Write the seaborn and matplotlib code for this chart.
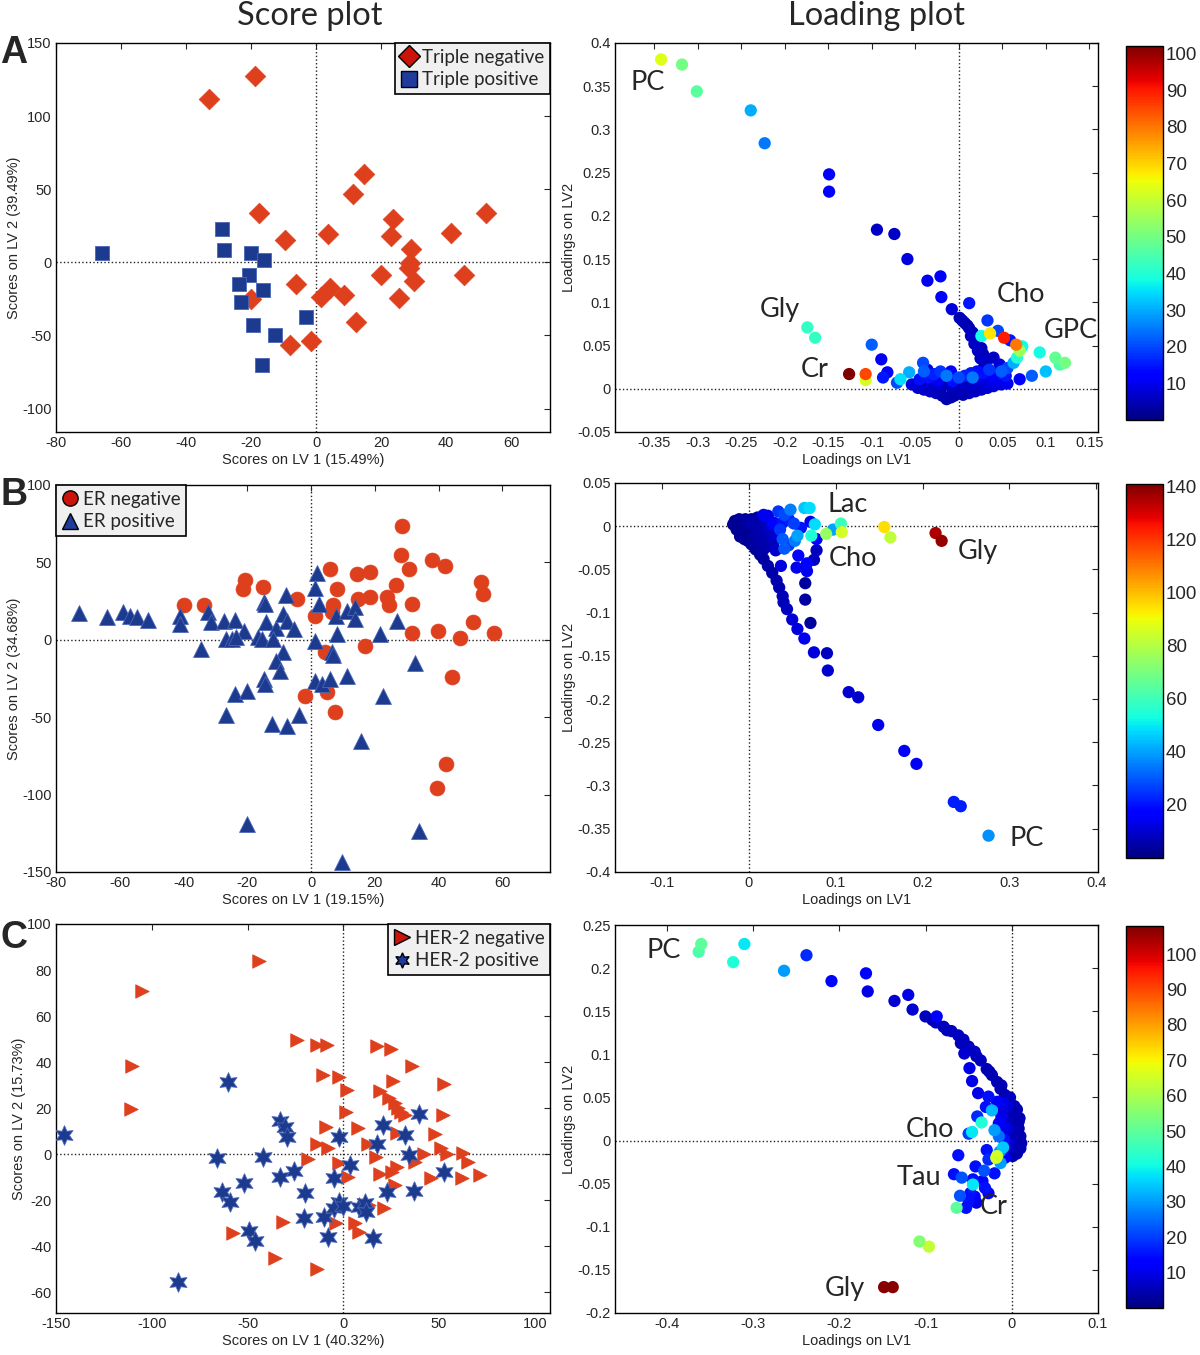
import matplotlib
matplotlib.use('Agg')
import matplotlib.pyplot as plt
from matplotlib.lines import Line2D
from matplotlib.cm import ScalarMappable
from matplotlib.colors import Normalize
import pandas as pd
import seaborn as sns

sns.set_style('white')
plt.rcParams['font.family'] = ['Liberation Sans', 'DejaVu Sans']

RED = '#DE3F1C'
BLUE = '#1C3A8E'
JET = matplotlib.colormaps['jet']

# ---------------- score plot data (LV1, LV2) ----------------
a_neg = [(-32.9, 111.4), (-18.7, 127.3), (14.6, 60.2), (11.3, 46.4), (-17.7, 33.9),
         (23.6, 29.3), (52.3, 33.9), (3.6, 19.3), (-9.7, 15.2), (23.0, 18.2),
         (41.5, 20.2), (29.3, 9.1), (28.9, -0.7), (28.5, -4.1), (19.9, -8.9),
         (30.2, -12.7), (45.5, -8.9), (-6.3, -15.0), (4.2, -17.7), (1.6, -23.4),
         (8.6, -22.3), (-20.0, -25.0), (25.5, -24.5), (12.2, -40.9), (-8.0, -56.4),
         (-1.6, -54.1)]
a_pos = [(-66.0, 6.6), (-28.9, 23.0), (-28.2, 8.4), (-20.0, 6.1), (-15.9, 1.6),
         (-20.6, -8.9), (-23.6, -15.0), (-16.2, -18.9), (-23.1, -27.3), (-3.0, -37.5),
         (-19.4, -43.0), (-12.5, -50.0), (-16.6, -70.2)]

b_neg = [(28.6, 73.4), (28.3, 54.5), (37.8, 51.5), (42.0, 47.6), (30.6, 45.9),
         (5.8, 45.9), (14.5, 42.7), (18.6, 44.0), (-20.6, 38.6), (-21.5, 32.6),
         (-15.1, 33.9), (8.2, 32.6), (26.7, 35.4), (53.4, 37.6), (54.0, 29.4),
         (-4.5, 26.6), (14.7, 26.2), (18.6, 27.9), (23.8, 27.9), (24.5, 22.3),
         (6.9, 22.3), (-39.8, 22.5), (-33.7, 22.5), (31.7, 23.0), (1.1, 15.5),
         (6.7, 18.0), (50.9, 11.2), (31.7, 4.1), (39.7, 5.8), (46.7, 0.9),
         (57.5, 4.1), (16.9, -3.9), (4.5, -8.2), (44.2, -24.2), (-2.0, -36.1),
         (4.9, -33.5), (7.5, -46.4), (42.3, -80.5), (39.4, -95.5)]
b_pos = [(-72.7, 17.0), (-64.0, 14.8), (-59.1, 18.0), (-56.9, 15.5), (-54.5, 14.4),
         (-51.2, 12.7), (-41.0, 15.5), (-41.2, 10.1), (-32.3, 18.0), (-31.5, 11.2),
         (-27.2, 12.2), (-24.0, 12.7), (-21.1, 5.8), (-26.7, 0.4), (-24.8, 0.4),
         (-23.4, 1.5), (-34.5, -6.0), (-14.8, 24.5), (-14.5, 23.0), (-7.9, 28.8),
         (-14.2, 11.2), (-11.1, 7.3), (-8.7, 16.5), (-7.6, 12.2), (-5.3, 6.9),
         (-16.7, 1.5), (-15.4, 0.4), (-12.0, 0.4), (-8.7, -7.7), (-10.9, -13.5),
         (-9.6, -20.0), (-14.8, -25.3), (-14.5, -28.5), (-23.7, -35.0), (-20.0, -32.8),
         (-26.7, -48.9), (-12.2, -54.3), (-7.6, -55.4), (-3.7, -48.5), (1.9, 43.3),
         (1.1, 33.3), (2.4, 23.0), (7.8, 15.5), (11.4, 18.7), (13.9, 21.2),
         (13.9, 13.7), (8.3, 3.6), (1.3, -0.6), (6.7, -7.7), (6.9, -9.9),
         (21.7, 3.6), (26.9, 12.2), (11.4, -23.6), (1.3, -26.4), (3.3, -28.5),
         (5.8, -25.3), (22.7, -36.1), (32.7, -15.0), (15.8, -65.7), (-20.0, -119.3),
         (33.8, -123.6), (9.7, -143.3)]

c_neg = [(-43.9, 84.0), (-104.9, 71.0), (-110.2, 38.1), (-110.7, 19.8), (-24.2, 49.4),
         (-13.7, 47.5), (-8.4, 47.5), (17.8, 47.2), (25.0, 45.7), (35.8, 38.1),
         (-10.7, 34.2), (-2.3, 33.5), (2.1, 27.7), (25.9, 31.6), (52.6, 30.3),
         (19.3, 27.3), (24.0, 24.5), (26.8, 22.2), (28.7, 20.1), (30.2, 18.3),
         (32.1, 17.2), (1.5, 18.3), (52.2, 16.9), (-8.8, 11.8), (7.7, 11.4),
         (27.8, 9.2), (47.9, 8.9), (-13.5, 4.6), (-7.9, 2.5), (12.8, 4.6),
         (17.1, -1.2), (-18.2, -1.9), (-2.3, -4.0), (41.9, -0.1), (51.2, 2.5),
         (54.1, -0.1), (62.5, 0.3), (65.3, -3.6), (37.2, -3.3), (2.4, -9.8),
         (19.3, -8.4), (25.3, -7.6), (27.8, -5.5), (45.6, -10.2), (62.1, -10.2),
         (71.5, -9.1), (26.8, -13.4), (13.3, -22.1), (21.2, -23.2), (-31.7, -29.3),
         (-57.6, -34.1), (-3.6, -30.0), (6.2, -30.0), (8.1, -33.6), (-35.5, -44.9),
         (-13.9, -49.9)]
c_pos = [(-145.8, 8.5), (-60.1, 31.3), (-33.2, 14.4), (-30.4, 11.8), (-29.5, 7.5),
         (-66.1, -1.6), (-41.7, -1.2), (-25.7, -7.4), (-32.8, -9.8), (-52.0, -12.7),
         (-63.3, -16.6), (-59.2, -20.6), (-20.1, -16.7), (-20.5, -27.6), (-49.2, -33.3),
         (-46.0, -37.7), (-10.1, -27.1), (-7.9, -35.8), (-2.3, 7.5), (3.4, -4.8),
         (-5.1, -10.5), (-2.3, -20.6), (-5.1, -23.5), (-0.4, -22.4), (8.1, -22.8),
         (11.4, -21.4), (11.8, -25.3), (15.6, -36.5), (17.5, 4.6), (20.8, 12.8),
         (32.1, 8.5), (39.6, 17.3), (34.3, -0.4), (22.7, -16.3), (36.8, -16.0),
         (52.6, -7.6), (-86.1, -55.7)]

# ---------------- loading plot data (LV1, LV2, colour value) ----------------
a_load = [(-0.342, 0.381, 63), (-0.318, 0.375, 50), (-0.301, 0.344, 47), (-0.239, 0.322, 30),
          (-0.223, 0.284, 25), (-0.149, 0.248, 12), (-0.149, 0.228, 12), (-0.094, 0.184, 6),
          (-0.074, 0.179, 6), (-0.059, 0.150, 8), (-0.036, 0.125, 10), (-0.021, 0.130, 12),
          (-0.020, 0.106, 12), (-0.008, 0.092, 8), (0.012, 0.099, 15), (0.001, 0.082, 5),
          (0.007, 0.076, 5), (0.012, 0.070, 5), (0.016, 0.065, 5), (0.021, 0.057, 5),
          (0.026, 0.047, 5), (0.028, 0.040, 5), (0.031, 0.030, 5), (0.004, 0.079, 4),
          (0.010, 0.073, 4), (0.014, 0.061, 6), (0.018, 0.052, 6), (0.022, 0.044, 6),
          (0.025, 0.035, 6), (0.029, 0.025, 6), (0.033, 0.079, 18), (0.045, 0.067, 20),
          (0.026, 0.061, 38), (0.036, 0.064, 68), (0.052, 0.059, 90), (0.059, 0.056, 15),
          (0.066, 0.051, 80), (0.073, 0.049, 38), (0.070, 0.044, 55), (0.067, 0.036, 40),
          (0.063, 0.030, 30), (0.056, 0.024, 20), (0.040, 0.036, 6), (0.047, 0.028, 8),
          (0.093, 0.042, 38), (0.111, 0.036, 48), (0.116, 0.028, 45), (0.122, 0.030, 50),
          (0.100, 0.020, 32), (0.084, 0.015, 22), (0.070, 0.011, 12), (-0.174, 0.071, 42),
          (-0.165, 0.059, 42), (-0.126, 0.017, 102), (-0.107, 0.017, 85), (-0.107, 0.010, 62),
          (-0.100, 0.051, 22), (-0.089, 0.034, 10), (-0.087, 0.013, 15), (-0.082, 0.019, 12),
          (-0.067, 0.011, 35), (-0.057, 0.019, 30), (-0.041, 0.030, 20), (-0.036, 0.022, 8),
          (-0.071, 0.007, 20), (-0.054, 0.005, 8), (-0.047, 0.001, 7), (-0.040, -0.001, 6),
          (-0.033, -0.003, 6), (-0.026, -0.005, 5), (-0.019, -0.008, 5), (-0.014, -0.012, 4),
          (-0.009, -0.010, 4), (-0.005, -0.008, 4), (0.005, -0.007, 5), (0.012, -0.005, 5),
          (0.019, -0.003, 6), (0.026, -0.001, 6), (0.033, 0.001, 7), (0.040, 0.003, 8),
          (0.049, 0.005, 9), (0.056, 0.006, 10), (-0.045, 0.011, 14), (-0.035, 0.013, 14),
          (-0.028, 0.017, 16), (-0.021, 0.020, 18), (-0.014, 0.015, 25), (-0.007, 0.009, 14),
          (0.000, 0.013, 20), (0.007, 0.015, 16), (0.014, 0.018, 15), (0.021, 0.020, 14),
          (0.028, 0.018, 14), (0.035, 0.022, 18), (0.042, 0.017, 12), (0.049, 0.020, 22),
          (-0.016, 0.005, 6), (-0.009, 0.003, 6), (-0.002, 0.001, 5), (0.005, 0.005, 6),
          (0.012, 0.007, 6), (0.019, 0.009, 7), (0.026, 0.011, 8), (0.033, 0.013, 9),
          (0.035, 0.007, 8), (-0.035, 0.005, 7), (-0.026, 0.003, 6), (-0.024, 0.009, 10),
          (0.012, 0.001, 5), (0.021, 0.003, 6), (-0.007, -0.005, 4), (0.000, -0.003, 4),
          (-0.021, -0.001, 5), (0.031, 0.007, 8), (0.040, 0.011, 10), (-0.009, 0.020, 12),
          (-0.040, 0.020, 22), (0.016, 0.013, 25), (0.054, 0.015, 15)]

b_load = [(0.276, -0.358, 38), (0.236, -0.319, 22), (0.244, -0.324, 22), (0.193, -0.275, 15),
          (0.179, -0.260, 16), (0.149, -0.230, 14), (0.115, -0.192, 10), (0.126, -0.198, 10),
          (0.090, -0.147, 8), (0.091, -0.167, 10), (0.075, -0.146, 12), (0.064, -0.130, 14),
          (0.056, -0.119, 12), (0.050, -0.108, 11), (0.071, -0.112, 4), (0.065, -0.085, 4),
          (0.065, -0.066, 4), (0.044, -0.096, 8), (0.040, -0.088, 7), (0.039, -0.081, 7),
          (0.035, -0.071, 6), (0.032, -0.063, 6), (0.027, -0.054, 5), (0.022, -0.046, 5),
          (0.017, -0.038, 4), (0.013, -0.033, 4), (0.008, -0.027, 4), (0.003, -0.021, 3),
          (0.037, -0.046, 12), (0.055, -0.048, 14), (0.067, -0.052, 14), (0.075, -0.039, 8),
          (0.078, -0.028, 8), (0.067, -0.043, 16), (0.057, -0.034, 18), (0.078, -0.015, 16),
          (0.071, 0.005, 14), (0.076, 0.002, 48), (0.072, -0.011, 55), (0.056, -0.011, 40),
          (0.089, -0.009, 75), (0.097, -0.004, 40), (0.106, 0.003, 60), (0.107, -0.007, 85),
          (0.156, -0.001, 95), (0.163, -0.013, 82), (0.215, -0.008, 135), (0.222, -0.017, 138),
          (0.064, 0.021, 45), (0.070, 0.021, 48), (0.048, 0.019, 35), (0.034, 0.017, 25),
          (0.039, -0.015, 30), (0.041, -0.026, 30), (0.046, -0.022, 25), (0.053, -0.017, 35),
          (0.036, -0.004, 25), (0.029, 0.004, 18), (0.022, 0.012, 12), (0.017, 0.013, 14),
          (-0.016, 0.006, 3), (-0.011, 0.008, 3), (-0.004, 0.008, 4), (0.003, 0.008, 4),
          (0.010, 0.010, 5), (-0.008, 0.000, 3), (-0.001, -0.002, 3), (0.006, 0.000, 4),
          (0.013, 0.002, 5), (-0.006, -0.008, 3), (0.001, -0.012, 3), (0.008, -0.010, 4),
          (0.015, -0.006, 6), (0.022, -0.004, 8), (-0.001, -0.017, 3), (0.006, -0.023, 4),
          (0.013, -0.019, 5), (0.020, -0.015, 6), (0.027, -0.012, 8), (0.024, -0.023, 6),
          (0.017, -0.027, 5), (0.032, -0.010, 10), (0.027, 0.002, 14), (0.039, 0.004, 20),
          (0.046, 0.008, 22), (0.041, 0.013, 28), (-0.013, 0.003, 3), (0.002, 0.004, 6),
          (0.018, 0.006, 8), (0.010, -0.003, 6), (-0.018, 0.002, 3), (-0.014, -0.004, 3),
          (-0.010, -0.012, 3), (-0.005, -0.015, 3), (0.004, -0.016, 4), (0.011, -0.014, 5),
          (0.028, -0.020, 7), (0.031, -0.028, 9), (0.060, -0.002, 20), (0.052, 0.003, 26)]

c_load = [(-0.360, 0.228, 50), (-0.363, 0.219, 48), (-0.310, 0.228, 38), (-0.323, 0.207, 42),
          (-0.264, 0.197, 30), (-0.238, 0.215, 18), (-0.209, 0.185, 14), (-0.169, 0.194, 12),
          (-0.167, 0.173, 10), (-0.136, 0.162, 8), (-0.120, 0.169, 10), (-0.115, 0.152, 8),
          (-0.100, 0.144, 6), (-0.087, 0.144, 12), (-0.088, 0.137, 6), (-0.079, 0.132, 6),
          (-0.070, 0.127, 6), (-0.062, 0.122, 6), (-0.056, 0.117, 6), (-0.050, 0.109, 6),
          (-0.055, 0.101, 8), (-0.043, 0.103, 6), (-0.036, 0.093, 6), (-0.049, 0.084, 10),
          (-0.029, 0.083, 5), (-0.023, 0.076, 5), (-0.046, 0.069, 10), (-0.017, 0.068, 5),
          (-0.039, 0.055, 10), (-0.013, 0.060, 5), (-0.008, 0.053, 5), (-0.003, 0.045, 5),
          (0.001, 0.037, 5), (0.005, 0.030, 5), (0.008, 0.022, 5), (0.008, 0.014, 5),
          (0.010, 0.005, 5), (0.011, -0.003, 5), (0.010, -0.009, 5), (0.006, -0.015, 5),
          (0.001, -0.018, 5), (-0.027, 0.051, 15), (-0.017, 0.045, 12), (-0.010, 0.043, 10),
          (-0.023, 0.035, 33), (-0.030, 0.039, 15), (-0.040, 0.028, 18), (-0.035, 0.021, 42),
          (-0.046, 0.010, 38), (-0.050, 0.008, 20), (-0.020, 0.012, 30), (-0.015, 0.020, 12),
          (-0.008, 0.016, 10), (-0.015, 0.005, 25), (-0.009, 0.001, 15), (-0.003, -0.003, 8),
          (-0.010, -0.008, 35), (-0.014, -0.013, 30), (-0.017, -0.018, 65), (-0.018, -0.020, 65),
          (-0.013, -0.026, 30), (-0.008, -0.020, 12), (-0.029, -0.011, 15), (-0.027, -0.022, 18),
          (-0.062, -0.017, 15), (-0.042, -0.030, 15), (-0.032, -0.035, 22), (-0.020, -0.038, 15),
          (-0.067, -0.039, 15), (-0.058, -0.043, 22), (-0.045, -0.045, 15), (-0.045, -0.051, 38),
          (-0.034, -0.047, 12), (-0.031, -0.055, 15), (-0.027, -0.061, 12), (-0.060, -0.064, 22),
          (-0.048, -0.061, 15), (-0.043, -0.065, 12), (-0.050, -0.070, 15), (-0.053, -0.078, 15),
          (-0.064, -0.078, 50), (-0.041, -0.072, 10), (-0.107, -0.117, 55), (-0.096, -0.123, 63),
          (-0.148, -0.170, 107), (-0.138, -0.170, 107), (0.003, 0.040, 5), (-0.002, 0.032, 4),
          (0.004, 0.018, 4), (0.000, 0.008, 5), (0.005, -0.005, 5), (-0.004, -0.010, 6),
          (0.002, -0.012, 4), (-0.006, 0.025, 6), (-0.010, 0.035, 8), (-0.004, 0.048, 6),
          (0.007, 0.002, 3), (0.009, -0.008, 3), (-0.092, 0.140, 5), (-0.075, 0.128, 5),
          (-0.059, 0.113, 5), (-0.041, 0.098, 5), (-0.026, 0.080, 5), (-0.012, 0.064, 5),
          (-0.002, 0.050, 5), (0.006, 0.036, 5), (0.009, 0.026, 5), (-0.004, 0.013, 8),
          (-0.012, 0.028, 10), (-0.005, 0.040, 8)]

# labels of the metabolite peaks (text, x, y)
a_notes = [('PC', -0.357, 0.354), ('Gly', -0.205, 0.092), ('Cr', -0.165, 0.022),
           ('Cho', 0.072, 0.109), ('GPC', 0.129, 0.067)]
b_notes = [('Lac', 0.114, 0.025), ('Cho', 0.120, -0.038), ('Gly', 0.264, -0.029),
           ('PC', 0.320, -0.361)]
c_notes = [('PC', -0.403, 0.221), ('Cho', -0.095, 0.013), ('Tau', -0.108, -0.043),
           ('Cr', -0.021, -0.076), ('Gly', -0.194, -0.172)]


def fmt(v):
    return f'{round(v, 3):g}'


def style_axes(ax, xlim, ylim, xticks, yticks, xlabel, ylabel):
    ax.axhline(0, color='#222222', ls=':', lw=1.0, zorder=0)
    ax.axvline(0, color='#222222', ls=':', lw=1.0, zorder=0)
    ax.set_xlim(xlim)
    ax.set_ylim(ylim)
    ax.set_xticks(xticks)
    ax.set_xticklabels([fmt(v) for v in xticks])
    ax.set_yticks(yticks)
    ax.set_yticklabels([fmt(v) for v in yticks])
    ax.tick_params(direction='in', top=True, right=True, length=4, width=0.8,
                   labelsize=10.5, pad=3)
    ax.set_xlabel(xlabel, fontsize=10.5, labelpad=2)
    ax.set_ylabel(ylabel, fontsize=10.5, labelpad=1)
    for sp in ax.spines.values():
        sp.set_color('black')
        sp.set_linewidth(1.0)


def score_panel(ax, neg, pos, marks, sizes, labels, loc, xlim, ylim, xticks, yticks, xlabel, ylabel):
    neg_df = pd.DataFrame(neg, columns=['x', 'y'])
    pos_df = pd.DataFrame(pos, columns=['x', 'y'])
    sns.scatterplot(data=neg_df, x='x', y='y', marker=marks[0], s=sizes[0], color=RED,
                    edgecolor=RED, linewidth=0.5, ax=ax, zorder=2)
    sns.scatterplot(data=pos_df, x='x', y='y', marker=marks[1], s=sizes[1], color=BLUE,
                    edgecolor='#4a66b8', linewidth=0.6, ax=ax, zorder=3)
    style_axes(ax, xlim, ylim, xticks, yticks, xlabel, ylabel)
    handles = [Line2D([], [], ls='none', marker=marks[0], markersize=11, markerfacecolor='#C8140A',
                      markeredgecolor='black', markeredgewidth=1.0),
               Line2D([], [], ls='none', marker=marks[1], markersize=11, markerfacecolor='#1F3C9C',
                      markeredgecolor='black', markeredgewidth=1.0)]
    leg = ax.legend(handles, labels, loc=loc, borderaxespad=0, frameon=True, fancybox=False,
                    edgecolor='black', facecolor='#f0f0f0', framealpha=1,
                    prop={'family': 'Lato', 'size': 13.5}, handlelength=0.9,
                    handletextpad=0.25, borderpad=0.3, labelspacing=0.3)
    leg.get_frame().set_linewidth(1.2)


def loading_panel(fig, ax, cax, pts, notes, vmax, cticks, xlim, ylim, xticks, yticks):
    df = pd.DataFrame(pts, columns=['x', 'y', 'c']).sort_values('c')
    sns.scatterplot(data=df, x='x', y='y', hue='c', palette=JET, hue_norm=(0, vmax),
                    s=78, linewidth=0, legend=False, ax=ax, zorder=2)
    style_axes(ax, xlim, ylim, xticks, yticks, 'Loadings on LV1', 'Loadings on LV2')
    for txt, x, y in notes:
        ax.text(x, y, txt, fontsize=19.5, family='Lato', ha='center', va='center', zorder=4)
    cb = fig.colorbar(ScalarMappable(norm=Normalize(0, vmax), cmap=JET), cax=cax, ticks=cticks)
    cb.outline.set_linewidth(1.0)
    cb.outline.set_edgecolor('black')
    cax.tick_params(direction='in', left=True, right=True, length=4, width=0.8,
                    labelsize=13.5, pad=2)


fig = plt.figure(figsize=(12, 13.55), dpi=100)

# row A
axA = fig.add_axes([0.0467, 0.6812, 0.4117, 0.2871])
score_panel(axA, a_neg, a_pos, ('D', 's'), (110, 100), ['Triple negative', 'Triple positive'],
            'upper right', (-80, 72), (-116, 150), [-80, -60, -40, -20, 0, 20, 40, 60],
            [-100, -50, 0, 50, 100, 150], 'Scores on LV 1 (15.49%)', 'Scores on LV 2 (39.49%)')
axLA = fig.add_axes([0.5125, 0.6812, 0.4025, 0.2871])
caxA = fig.add_axes([0.9383, 0.69, 0.0308, 0.276])
loading_panel(fig, axLA, caxA, a_load, a_notes, 102, [10, 20, 30, 40, 50, 60, 70, 80, 90, 100],
              (-0.395, 0.16), (-0.05, 0.4),
              [-0.35, -0.3, -0.25, -0.2, -0.15, -0.1, -0.05, 0, 0.05, 0.1, 0.15],
              [-0.05, 0, 0.05, 0.1, 0.15, 0.2, 0.25, 0.3, 0.35, 0.4])

# row B
axB = fig.add_axes([0.0467, 0.3565, 0.4117, 0.2856])
score_panel(axB, b_neg, b_pos, ('o', '^'), (115, 130), ['ER negative', 'ER positive'],
            'upper left', (-80, 75), (-150, 100), [-80, -60, -40, -20, 0, 20, 40, 60],
            [-150, -100, -50, 0, 50, 100], 'Scores on LV 1 (19.15%)', 'Scores on LV 2 (34.68%)')
axLB = fig.add_axes([0.5125, 0.3565, 0.4025, 0.2871])
caxB = fig.add_axes([0.9383, 0.3668, 0.0308, 0.276])
loading_panel(fig, axLB, caxB, b_load, b_notes, 141, [20, 40, 60, 80, 100, 120, 140],
              (-0.154, 0.402), (-0.4, 0.05), [-0.1, 0, 0.1, 0.2, 0.3, 0.4],
              [-0.4, -0.35, -0.3, -0.25, -0.2, -0.15, -0.1, -0.05, 0, 0.05])

# row C
axC = fig.add_axes([0.0467, 0.031, 0.4117, 0.2871])
score_panel(axC, c_neg, c_pos, ('>', (6, 1, 0)), (95, 200), ['HER-2 negative', 'HER-2 positive'],
            'upper right', (-150, 108), (-69, 100), [-150, -100, -50, 0, 50, 100],
            [-60, -40, -20, 0, 20, 40, 60, 80, 100], 'Scores on LV 1 (40.32%)',
            'Scores on LV 2 (15.73%)')
axLC = fig.add_axes([0.5125, 0.031, 0.4025, 0.2863])
caxC = fig.add_axes([0.9383, 0.0347, 0.0308, 0.282])
loading_panel(fig, axLC, caxC, c_load, c_notes, 108, [10, 20, 30, 40, 50, 60, 70, 80, 90, 100],
              (-0.46, 0.094), (-0.2, 0.25), [-0.4, -0.3, -0.2, -0.1, 0, 0.1],
              [-0.2, -0.15, -0.1, -0.05, 0, 0.05, 0.1, 0.15, 0.2, 0.25])

# column titles and panel letters
fig.text(0.258, 0.988, 'Score plot', ha='center', va='center', fontsize=23.5, family='Lato')
fig.text(0.73, 0.988, 'Loading plot', ha='center', va='center', fontsize=23.5, family='Lato')
for letter, y in [('A', 0.961), ('B', 0.635), ('C', 0.308)]:
    fig.text(0.0115, y, letter, ha='center', va='center', fontsize=27, fontweight='bold')

fig.savefig('out.png', dpi=100)
